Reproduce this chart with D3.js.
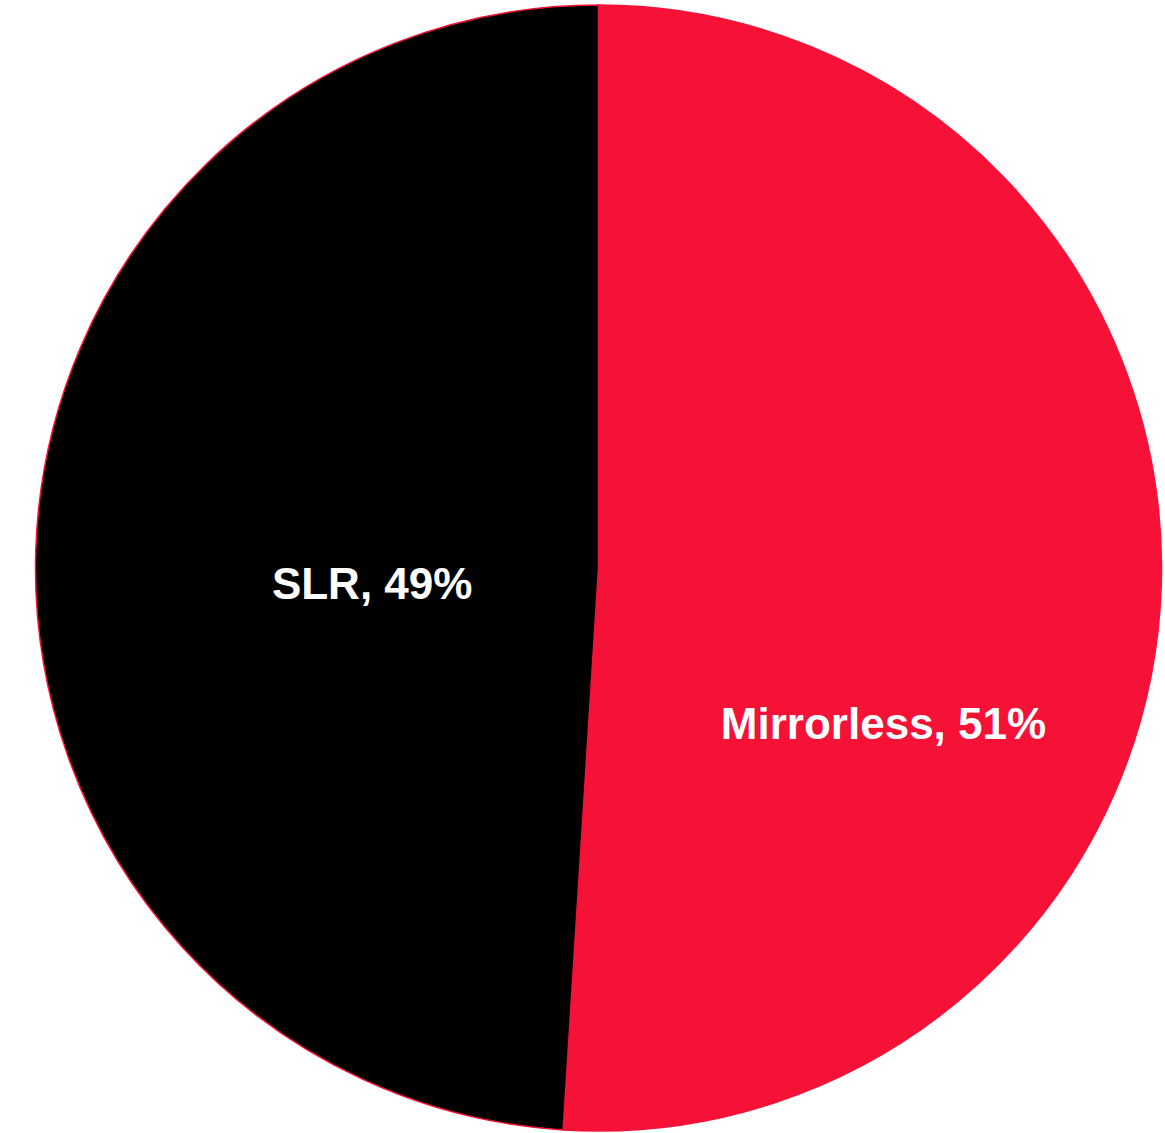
<!DOCTYPE html>
<html><head><meta charset="utf-8">
<script src="https://cdn.jsdelivr.net/npm/d3@7"></script>
<style>html,body{margin:0;padding:0;background:#fff;}svg{display:block;}</style>
</head><body>
<svg id="chart" width="1165" height="1133"></svg>
<script>
const categories = ["Mirrorless", "SLR"];
const values = [51, 49];
const colors = ["#F61137", "#000000"];

const W = 1165, H = 1133;
const cx = 598.5, cy = 568, R = 563;
const svg = d3.select("#chart");
const g = svg.append("g").attr("transform", `translate(${cx},${cy})`);

const data = categories.map((c, i) => ({cat: c, val: values[i], color: colors[i]}));
const pie = d3.pie().value(d => d.val).sort(null);
const arc = d3.arc().innerRadius(0).outerRadius(R);
const arcs = pie(data);

g.selectAll("path.slice").data(arcs).join("path")
  .attr("class", "slice")
  .attr("d", arc)
  .attr("fill", d => d.data.color)
  .attr("stroke", colors[0])
  .attr("stroke-width", 1.5);

// label placement (polar offsets relative to slice centre angle)
const labelPlace = [{da: 0.466, rf: 0.576}, {da: -0.10, rf: 0.403}];
g.selectAll("text.lbl").data(arcs).join("text")
  .attr("class", "lbl")
  .attr("transform", (d, i) => {
    const a = (d.startAngle + d.endAngle) / 2 + labelPlace[i].da;
    const r = R * labelPlace[i].rf;
    return `translate(${Math.sin(a) * r},${-Math.cos(a) * r})`;
  })
  .attr("text-anchor", "middle")
  .attr("dy", "0.36em")
  .attr("fill", "#fff")
  .attr("font-family", "Liberation Sans, Arial, sans-serif")
  .attr("font-weight", "bold")
  .attr("font-size", 44)
  .text(d => `${d.data.cat}, ${Math.round(d.data.val)}%`);
</script>
</body></html>
